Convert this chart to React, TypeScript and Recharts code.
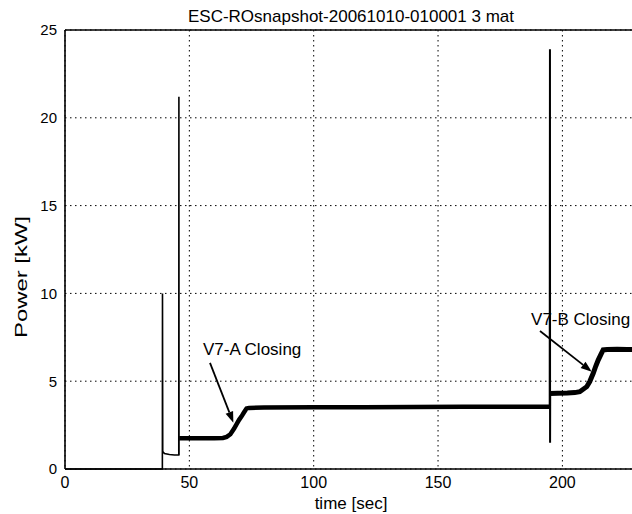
import React from 'react';
import { LineChart, Line, XAxis, YAxis, CartesianGrid, ReferenceLine, ReferenceDot } from 'recharts';

// idle period with the first small start-up spike (thin trace)
const idleTime = [0, 39.15, 39.2, 39.3, 40, 42, 44, 45.75, 45.8, 45.85];
const idlePower = [0, 0, 10, 1.0, 0.88, 0.83, 0.8, 0.8, 21.2, 0.8];

// V7-A loaded period, noisy trace drawn heavy
const loadATime = [45.9, 50, 55, 60, 63.5, 65, 66.5, 68, 69, 70, 71, 72, 73, 74, 80, 100, 120, 140, 160, 180, 194.9];
const loadAPower = [1.75, 1.75, 1.75, 1.75, 1.77, 1.83, 1.98, 2.3, 2.55, 2.8, 3.0, 3.23, 3.45, 3.48, 3.5, 3.52, 3.52, 3.53, 3.55, 3.55, 3.55];

// switching transient at ~195 s
const spikeTime = [194.9, 195, 195.05, 195.1];
const spikePower = [3.55, 23.9, 1.5, 4.3];

// V7-B loaded period
const loadBTime = [195.1, 198, 202, 205, 207, 209.8, 211, 212.4, 213.4, 214.4, 215.4, 216.4, 218, 222, 226, 230];
const loadBPower = [4.3, 4.32, 4.33, 4.35, 4.4, 4.69, 4.98, 5.45, 5.85, 6.2, 6.5, 6.78, 6.8, 6.82, 6.8, 6.82];

const xTicks = [0, 50, 100, 150, 200];
const yTicks = [0, 5, 10, 15, 20, 25];

const noteLabels = ['V7-A Closing', 'V7-B Closing'];
const noteTextX = [55.5, 187.4];
const noteTextY = [6.49, 8.2];
const arrowFromX = [58.3, 191.0];
const arrowFromY = [6.04, 7.86];
const arrowToX = [67.7, 211.8];
const arrowToY = [2.64, 5.54];

const toPoints = (t: number[], p: number[]) => t.map((x, i) => ({ t: x, p: p[i] }));

const idleData = toPoints(idleTime, idlePower);
const loadAData = toPoints(loadATime, loadAPower);
const spikeData = toPoints(spikeTime, spikePower);
const loadBData = toPoints(loadBTime, loadBPower);

const FONT = '"Liberation Sans", Arial, Helvetica, sans-serif';

const Arrow = (props: any) => {
  const { x1, y1, x2, y2 } = props;
  const dx = x2 - x1;
  const dy = y2 - y1;
  const len = Math.sqrt(dx * dx + dy * dy) || 1;
  const ux = dx / len;
  const uy = dy / len;
  const head = 11;
  const half = 4;
  const bx = x2 - ux * head;
  const by = y2 - uy * head;
  const pts = `${x2},${y2} ${bx - uy * half},${by + ux * half} ${bx + uy * half},${by - ux * half}`;
  return (
    <g>
      <line x1={x1} y1={y1} x2={bx} y2={by} stroke="#000" strokeWidth={1.8} />
      <polygon points={pts} fill="#000" />
    </g>
  );
};

const noteText = (label: string) => (props: any) => (
  <text x={props.cx} y={props.cy} fontFamily={FONT} fontSize={17} fill="#000">
    {label}
  </text>
);

export default function App() {
  return (
    <div style={{ position: 'fixed', left: 0, top: 0, width: 632, height: 514, overflow: 'hidden', background: '#fff' }}>
      <div
        style={{
          position: 'absolute',
          left: 151,
          top: 7,
          width: 400,
          textAlign: 'center',
          fontFamily: FONT,
          fontSize: 17,
          lineHeight: '20px',
          color: '#000',
        }}
      >
        ESC-ROsnapshot-20061010-010001 3 mat
      </div>
      <LineChart width={660} height={514} margin={{ top: 30, right: 23, left: 0, bottom: 0 }}>
        <CartesianGrid stroke="#000" strokeDasharray="1.5 3.5" strokeWidth={1} />
        <XAxis
          dataKey="t"
          type="number"
          domain={[0, 230]}
          ticks={xTicks}
          allowDataOverflow
          height={45}
          tickLine={false}
          axisLine={{ stroke: '#000', strokeWidth: 1.6 }}
          tick={{ fill: '#000', fontSize: 16, fontFamily: FONT }}
          label={{
            content: () => (
              <text x={351} y={509} textAnchor="middle" fontFamily={FONT} fontSize={17} fill="#000">
                time [sec]
              </text>
            ),
          }}
        />
        <YAxis
          type="number"
          domain={[0, 25]}
          ticks={yTicks}
          width={65}
          tickLine={false}
          axisLine={{ stroke: '#000', strokeWidth: 1.6 }}
          tick={{ fill: '#000', fontSize: 15, fontFamily: FONT }}
          label={{
            content: () => (
              <text
                x={0}
                y={0}
                transform="translate(27,277) rotate(-90)"
                textAnchor="middle"
                fontFamily={FONT}
                fontSize={17}
                fill="#000"
                textLength={122}
                lengthAdjust="spacingAndGlyphs"
              >
                Power [kW]
              </text>
            ),
          }}
        />
        <ReferenceLine y={25} stroke="#000" strokeWidth={1.6} />
        <Line data={idleData} dataKey="p" type="linear" stroke="#000" strokeWidth={1.6} dot={false} isAnimationActive={false} />
        <Line data={loadAData} dataKey="p" type="linear" stroke="#000" strokeWidth={4.5} dot={false} isAnimationActive={false} />
        <Line data={spikeData} dataKey="p" type="linear" stroke="#000" strokeWidth={2} dot={false} isAnimationActive={false} />
        <Line data={loadBData} dataKey="p" type="linear" stroke="#000" strokeWidth={5} dot={false} isAnimationActive={false} />
        {noteLabels.map((label, i) => (
          <ReferenceLine
            key={`arrow-${label}`}
            segment={[
              { x: arrowFromX[i], y: arrowFromY[i] },
              { x: arrowToX[i], y: arrowToY[i] },
            ]}
            shape={Arrow}
          />
        ))}
        {noteLabels.map((label, i) => (
          <ReferenceDot key={`note-${label}`} x={noteTextX[i]} y={noteTextY[i]} r={0} shape={noteText(label)} />
        ))}
      </LineChart>
    </div>
  );
}
